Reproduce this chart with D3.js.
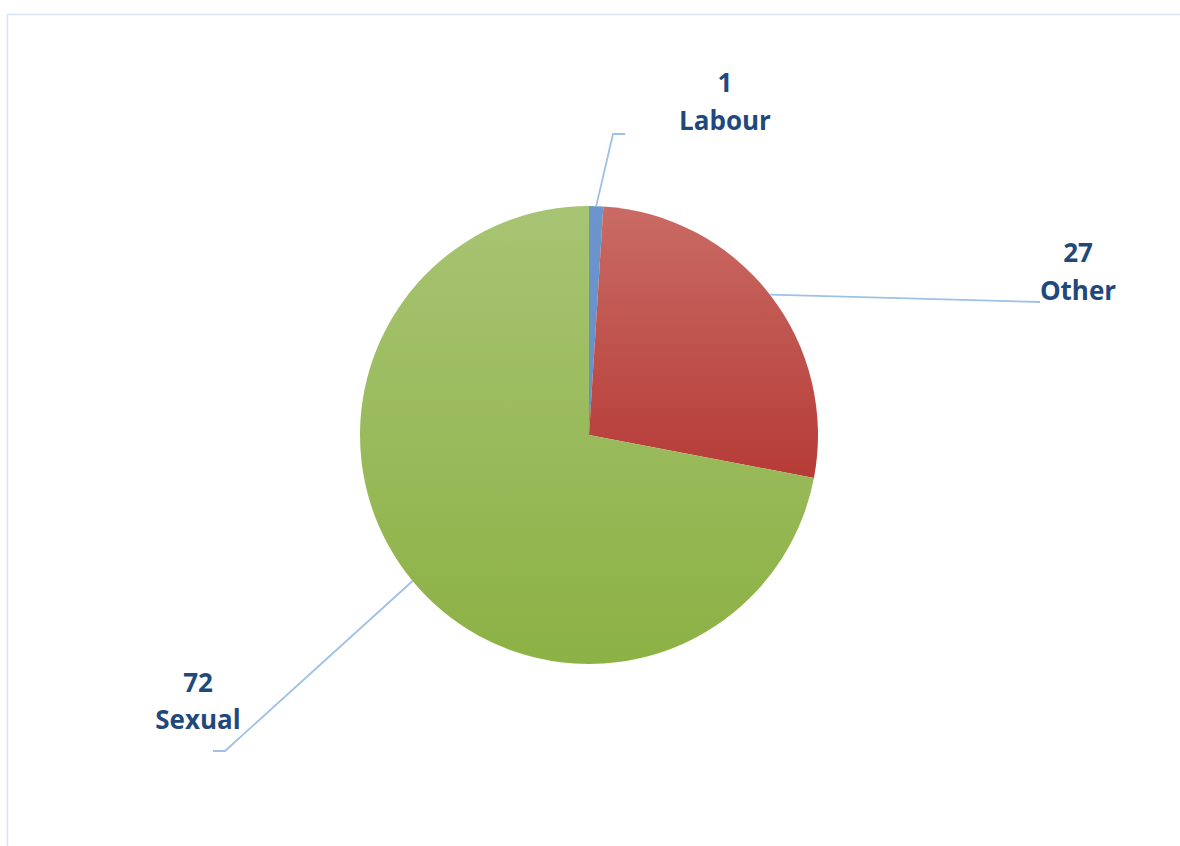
<!DOCTYPE html>
<html>
<head>
<meta charset="utf-8">
<script src="https://cdn.jsdelivr.net/npm/d3@7"></script>
<style>
  html, body { margin: 0; padding: 0; background: #fff; }
  svg { display: block; }
</style>
</head>
<body>
<svg id="chart" width="1180" height="846"></svg>
<script>
const categories = ["Labour", "Other", "Sexual"];
const values = [1, 27, 72];
const colorsTop = ["#6d95cd", "#c96b64", "#a7c473"];
const colorsBottom = ["#6690c9", "#b63b37", "#8cb144"];

const W = 1180, H = 846;
const cx = 589, cy = 435, R = 229;

const svg = d3.select("#chart");

// frame
svg.append("path")
  .attr("d", `M7.5,${H} L7.5,14.5 L${W},14.5`)
  .attr("fill", "none")
  .attr("stroke", "#d9e4f2")
  .attr("stroke-width", 1.5);

const defs = svg.append("defs");
categories.forEach((c, i) => {
  const g = defs.append("linearGradient")
    .attr("id", "grad" + i)
    .attr("x1", 0).attr("y1", 0).attr("x2", 0).attr("y2", 1);
  g.append("stop").attr("offset", "0%").attr("stop-color", colorsTop[i]);
  g.append("stop").attr("offset", "100%").attr("stop-color", colorsBottom[i]);
});

const data = categories.map((c, i) => ({ name: c, value: values[i], idx: i }));
const pie = d3.pie().value(d => d.value).sort(null).startAngle(0).endAngle(2 * Math.PI);
const arcs = pie(data);
const arc = d3.arc().innerRadius(0).outerRadius(R);

const g = svg.append("g").attr("transform", `translate(${cx},${cy})`);
g.selectAll("path.slice")
  .data(arcs)
  .enter().append("path")
  .attr("class", "slice")
  .attr("d", arc)
  .attr("fill", d => `url(#grad${d.data.idx})`);

// leader line bends / ends (layout positions, absolute)
const leaderBends = {
  Labour: [[613, 134], [625, 134]],
  Other: [[1040, 302]],
  Sexual: [[225, 751], [213, 751]]
};
const labelPos = {
  Labour: [725, 92, 130],
  Other: [1078, 262, 300],
  Sexual: [198, 692, 729]
};

arcs.forEach(a => {
  const mid = (a.startAngle + a.endAngle) / 2;
  const sx = cx + R * Math.sin(mid);
  const sy = cy - R * Math.cos(mid);
  const pts = [[sx, sy]].concat(leaderBends[a.data.name]);
  svg.append("path")
    .attr("d", d3.line()(pts))
    .attr("fill", "none")
    .attr("stroke", "#9fc0e8")
    .attr("stroke-width", 1.8);

  const lp = labelPos[a.data.name];
  const t = svg.append("text")
    .attr("text-anchor", "middle")
    .attr("fill", "#1f497d")
    .attr("font-family", "'Open Sans', 'Noto Sans', sans-serif")
    .attr("font-weight", "bold")
    .attr("font-size", 26);
  t.append("tspan").attr("x", lp[0]).attr("y", lp[1]).text(a.data.value);
  t.append("tspan").attr("x", lp[0]).attr("y", lp[2]).text(a.data.name);
});
</script>
</body>
</html>
